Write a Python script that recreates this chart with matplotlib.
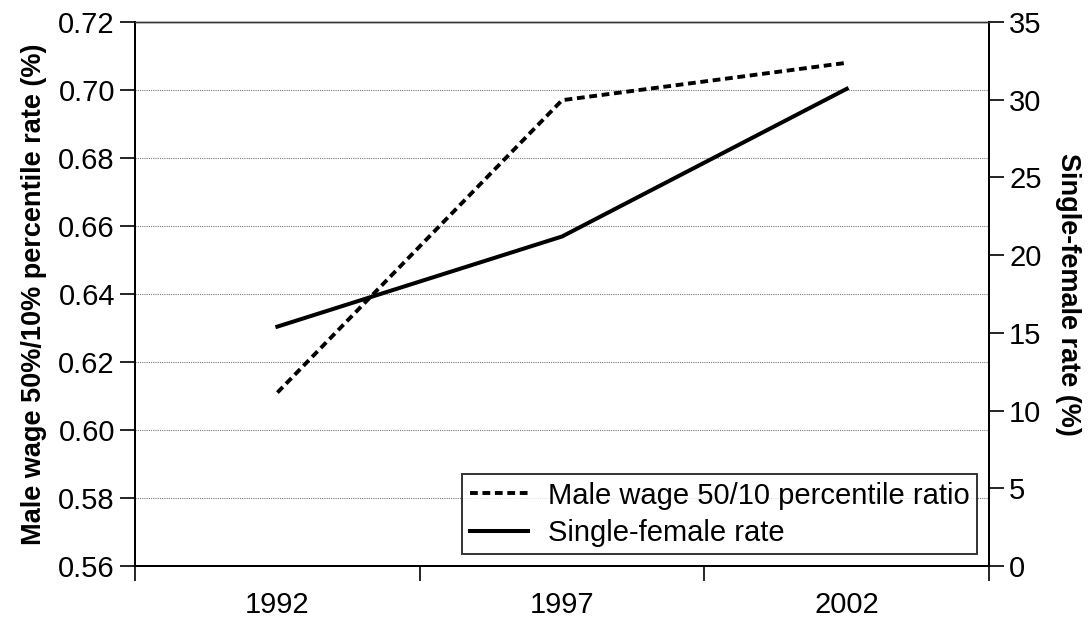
import numpy as np
import matplotlib.pyplot as plt

plt.rcParams["font.family"] = ["Liberation Sans", "DejaVu Sans"]

years = ["1992", "1997", "2002"]
wage_ratio = [0.611, 0.697, 0.708]       # left axis
single_female = [15.4, 21.2, 30.7]        # right axis (%)


def main():
    fig = plt.figure(figsize=(10.9, 6.21), dpi=100)
    ax = fig.add_axes([0.1239, 0.0886, 0.7835, 0.876])
    ax2 = ax.twinx()

    x = np.arange(len(years))
    l1, = ax.plot(x, wage_ratio, color="black", lw=2.8, ls=(0, (2.0, 1.2)),
                  label="Male wage 50/10 percentile ratio")
    l2, = ax2.plot(x, single_female, color="black", lw=2.9,
                   label="Single-female rate")

    ax.set_xlim(-0.5, 2.5)
    ax.set_xticks([-0.5, 0.5, 1.5, 2.5])
    ax.set_xticklabels([])
    ax.set_xticks(x, minor=True)
    ax.set_xticklabels(years, minor=True)
    ax.tick_params(axis="x", which="major", direction="out", length=11, width=1.2)
    ax.tick_params(axis="x", which="minor", length=0, pad=18, labelsize=21)

    ax.set_ylim(0.56, 0.72)
    ax.set_yticks(np.arange(0.56, 0.7201, 0.02))
    ax.set_yticklabels([f"{v:.2f}" for v in np.arange(0.56, 0.7201, 0.02)])
    ax.tick_params(axis="y", direction="out", length=11, width=1.2, labelsize=21)
    ax.yaxis.grid(True, color="#777777", ls=(0, (1, 1)), lw=0.8)
    ax.set_ylabel("Male wage 50%/10% percentile rate (%)", fontsize=19.5,
                  fontweight="bold", labelpad=8)

    ax2.set_ylim(0, 35)
    ax2.set_yticks(np.arange(0, 36, 5))
    ax2.tick_params(axis="y", direction="out", length=11, width=1.2, labelsize=21)
    ax2.set_ylabel("Single-female rate (%)", fontsize=19.5, fontweight="bold",
                   rotation=-90, labelpad=28)

    for a in (ax, ax2):
        a.spines["top"].set_linewidth(1.0)
        a.spines["top"].set_color("#333333")
        for s in ("left", "right", "bottom"):
            a.spines[s].set_linewidth(1.4)

    leg = ax.legend(handles=[l1, l2], loc="lower right", fontsize=21,
                    frameon=True, fancybox=False, edgecolor="black",
                    handlelength=2.0, handletextpad=0.7, borderpad=0.25,
                    labelspacing=0.32, borderaxespad=0.4)
    leg.get_frame().set_linewidth(1.4)

    fig.savefig("out.png", dpi=100)


if __name__ == "__main__":
    main()
